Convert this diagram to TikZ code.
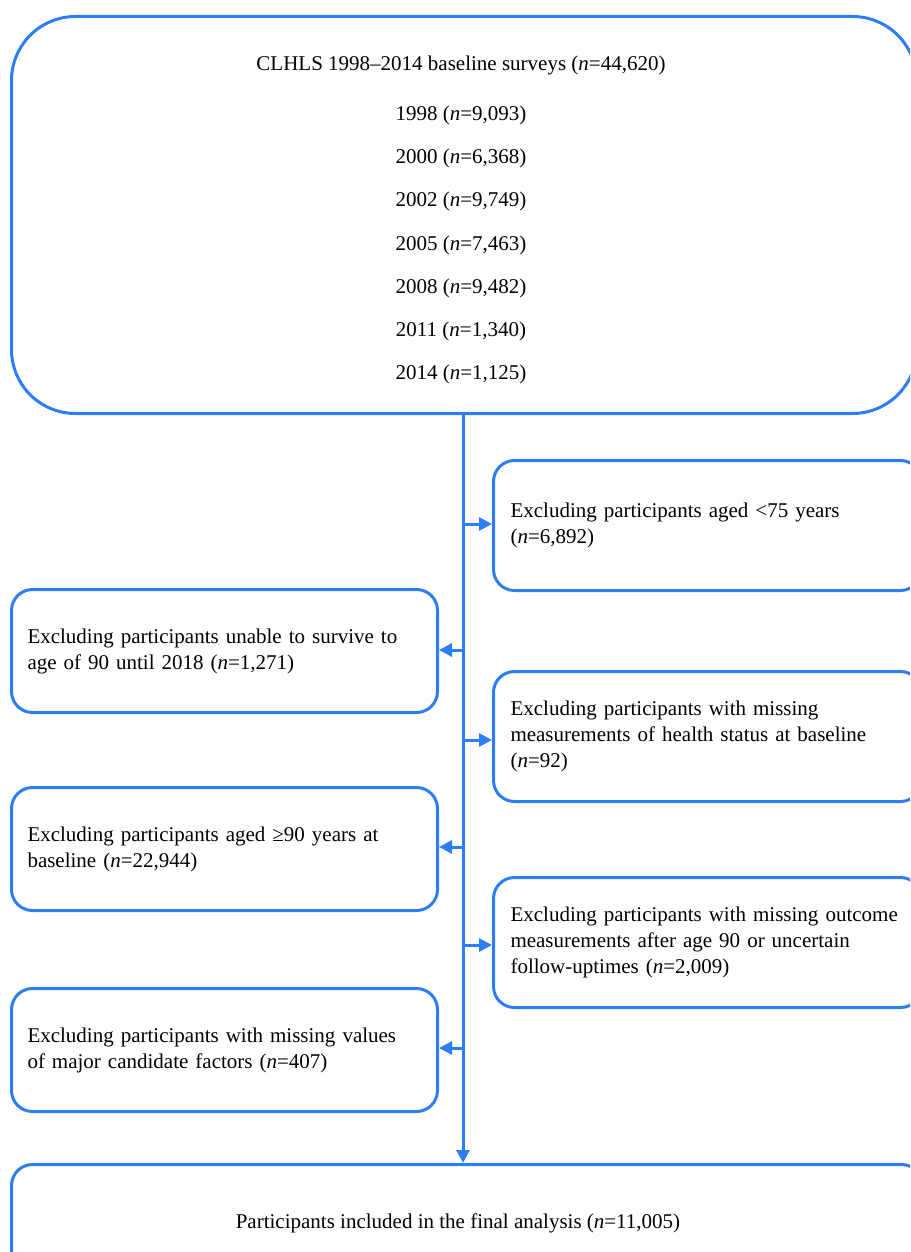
\documentclass[tikz,border=0pt]{standalone}
\usepackage{fontspec}
\setmainfont{Liberation Serif}
\usetikzlibrary{arrows.meta}
\definecolor{flowblue}{RGB}{45,125,245}
\begin{document}
\begin{tikzpicture}[x=0.5pt,y=-0.5pt,
  every node/.style={font=\fontsize{10.5}{13}\selectfont},
  bigbox/.style={draw=flowblue, line width=1.5pt, rounded corners=32pt, anchor=north west,
    minimum width=452.5pt, minimum height=198.5pt, inner sep=0pt},
  sidebox/.style={draw=flowblue, line width=1.5pt, rounded corners=10.5pt, anchor=north west,
    inner ysep=0pt, align=left},
  leftbox/.style={sidebox, inner xsep=8pt, text width=197pt, minimum height=61.5pt},
  rightbox/.style={sidebox, inner xsep=8.5pt, text width=197pt, minimum height=65pt},
  endbox/.style={draw=flowblue, line width=1.5pt, rounded corners=10.5pt, anchor=north west,
    minimum width=455.5pt, minimum height=59pt, align=center, inner sep=0pt},
  arr/.style={draw=flowblue, line width=1.5pt, -{Triangle[length=6.5pt,width=6.5pt]}}
]
\useasboundingbox (0,0) rectangle (910,1252);
\clip (0,0) rectangle (910,1252);

\node[bigbox] (top) at (10,15) {};
\node[align=center, inner sep=0pt] (toptext) at ([xshift=-1.5pt,yshift=-2.5pt]top.center) {%
  CLHLS 1998–2014 baseline surveys (\textit{n}=44,620)\\[12pt]
  1998 (\textit{n}=9,093)\\[8.6pt]
  2000 (\textit{n}=6,368)\\[8.6pt]
  2002 (\textit{n}=9,749)\\[8.6pt]
  2005 (\textit{n}=7,463)\\[8.6pt]
  2008 (\textit{n}=9,482)\\[8.6pt]
  2011 (\textit{n}=1,340)\\[8.6pt]
  2014 (\textit{n}=1,125)};

\node[rightbox] (r1) at (492,459) {Excluding participants aged <75 years\\(\textit{n}=6,892)};
\node[leftbox] (l1) at (10,588) {Excluding participants unable to survive to\\age of 90 until 2018 (\textit{n}=1,271)};
\node[rightbox] (r2) at (492,670) {Excluding participants with missing\\measurements of health status at baseline\\(\textit{n}=92)};
\node[leftbox] (l2) at (10,786) {Excluding participants aged ≥90 years at\\baseline (\textit{n}=22,944)};
\node[rightbox] (r3) at (492,876) {Excluding participants with missing outcome\\measurements after age 90 or uncertain\\follow-uptimes (\textit{n}=2,009)};
\node[leftbox] (l3) at (10,987) {Excluding participants with missing values\\of major candidate factors (\textit{n}=407)};

\node[endbox] (bot) at (10,1163) {\hspace*{-9pt}Participants included in the final analysis (\textit{n}=11,005)};

\coordinate (s0) at (463,412);
\draw[arr] (s0) -- (s0 |- bot.north);

\coordinate (a1) at (463,524);
\coordinate (a2) at (463,650);
\coordinate (a3) at (463,740);
\coordinate (a4) at (463,847);
\coordinate (a5) at (463,945);
\coordinate (a6) at (463,1048);
\draw[arr] (a1) -- (a1 -| r1.west);
\draw[arr] (a2) -- (a2 -| l1.east);
\draw[arr] (a3) -- (a3 -| r2.west);
\draw[arr] (a4) -- (a4 -| l2.east);
\draw[arr] (a5) -- (a5 -| r3.west);
\draw[arr] (a6) -- (a6 -| l3.east);
\end{tikzpicture}
\end{document}
